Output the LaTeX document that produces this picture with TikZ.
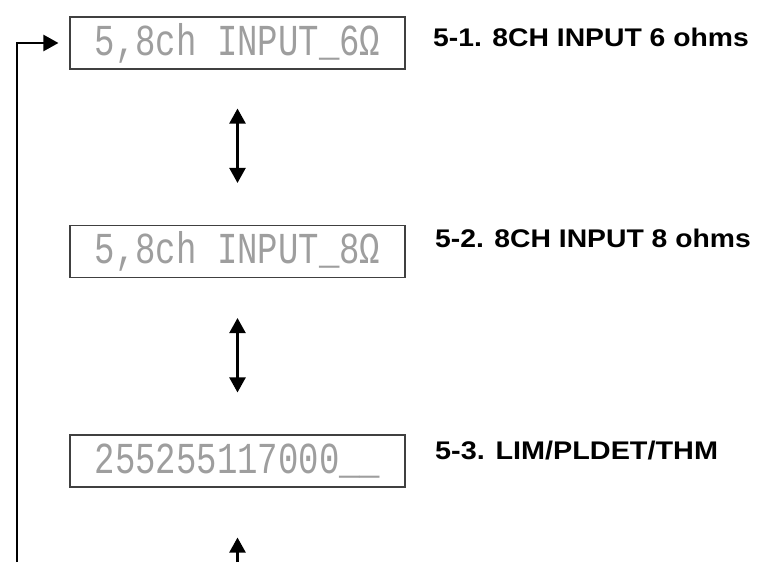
\documentclass[tikz,border=0pt]{standalone}
\usepackage{fontspec}
\setmainfont{Liberation Sans}
\newfontfamily\lcdfont{Liberation Mono}
\usetikzlibrary{arrows.meta}
\begin{document}
\begin{tikzpicture}[x=1pt,y=-1pt]
\useasboundingbox[fill=white] (0,0) rectangle (765,562);
\tikzset{
  lcdbox/.style={draw=black!75, line width=1.1pt, minimum width=335pt, minimum height=52pt,
    inner sep=0pt, text=black!38, font=\lcdfont\fontsize{34}{34}\selectfont},
  lbl/.style={anchor=west, font=\bfseries\fontsize{25.5}{25.5}\selectfont, inner sep=0pt},
  tip/.tip={Triangle[width=16pt,length=15pt]},
  conn/.style={line width=2.4pt, -tip},
  dbl/.style={line width=2.4pt, tip-tip}
}
\node[lcdbox] (d1) at (237.5,43) {\scalebox{1}[1.3]{5,8ch INPUT\_6Ω}};
\node[lcdbox] (d2) at (237.5,251.5) {\scalebox{1}[1.3]{5,8ch INPUT\_8Ω}};
\node[lcdbox] (d3) at (237.5,461) {\scalebox{1}[1.3]{255255117000\_\_}};

\node[lbl] (l1) at (433,37.7) {\scalebox{1.11}[1]{5-1. 8CH INPUT 6 ohms}};
\node[lbl] (l2) at (435,238.5) {\scalebox{1.11}[1]{5-2. 8CH INPUT 8 ohms}};
\node[lbl] (l3) at (435,451) {\scalebox{1.13}[1]{5-3. LIM/PLDET/THM}};

\draw[dbl, shorten <=39pt, shorten >=42pt] (d1.south) -- (d2.north);
\draw[dbl, shorten <=40pt, shorten >=42pt] (d2.south) -- (d3.north);

\coordinate (lb) at (17,562);
\coordinate (bb) at (237.5,562);
\draw[conn, shorten >=11pt] (lb) |- (d1.west);
\draw[conn, shorten >=50pt] (bb) -- (d3.south);
\end{tikzpicture}
\end{document}
